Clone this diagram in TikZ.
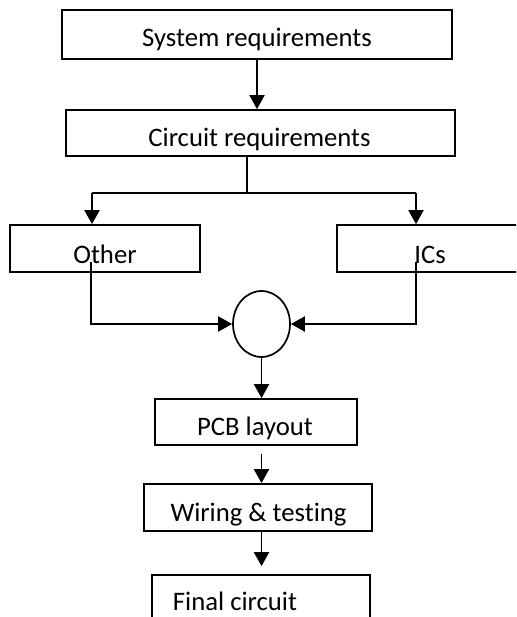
\documentclass[tikz,border=0pt]{standalone}
\usepackage{fontspec}
\setmainfont{Carlito}[Ligatures=NoCommon]
\usetikzlibrary{arrows.meta,shapes.geometric}
\begin{document}
\begin{tikzpicture}[x=1pt,y=-1pt,
  box/.style={draw, line width=1.7pt, rectangle, inner sep=0pt},
  lbl/.style={anchor=base, inner sep=0pt, font=\fontsize{26.7}{32}\selectfont},
  link/.style={line width=1.9pt},
  arr/.style={link, -{Triangle[width=15pt,length=14pt]}}]
\useasboundingbox (0,0) rectangle (516,617);
\clip (0,0) rectangle (516,617);

% boxes
\node[box, minimum width=390pt, minimum height=49pt] (sys)   at (257,34.5)  {};
\node[box, minimum width=389pt, minimum height=46pt] (cir)   at (260.5,133) {};
\node[box, minimum width=190pt, minimum height=47pt] (other) at (105,248.5) {};
\node[box, minimum width=190pt, minimum height=47pt] (ics)   at (432,248.5) {};
\node[draw, ellipse, line width=1.7pt, minimum width=57pt, minimum height=66pt, inner sep=0pt] (merge) at (261.5,324) {};
\node[box, minimum width=202pt, minimum height=46pt] (pcb)   at (256,422)   {};
\node[box, minimum width=228pt, minimum height=47pt] (wir)   at (258,507.5) {};
\node[box, minimum width=218pt, minimum height=85pt] (fin)   at (261,617.5) {};

% labels
\node[lbl] (systxt)   at (257,47)    {System requirements};
\node[lbl] (cirtxt)   at (259.5,147) {Circuit requirements};
\node[lbl] (othertxt) at (105,263)   {Other};
\node[lbl] (icstxt)   at (430,263)   {ICs};
\node[lbl] (pcbtxt)   at (255,435)   {PCB layout};
\node[lbl] (wirtxt)   at (258.5,521) {Wiring \& testing};
\node[lbl] (fintxt)   at (235,610)   {Final circuit};

% junction points
\coordinate (br)  at (247,193);
\coordinate (bl)  at (92,193);
\coordinate (brr) at (416,193);
\coordinate (ol)  at (91,262);
\coordinate (ir)  at (416,262);

% connectors
\draw[arr] (sys.south) -- (sys.south |- cir.north);
\draw[link] (br |- cir.south) -- (br);
\draw[link] (bl) -- (brr);
\draw[arr] (bl) -- (bl |- other.north);
\draw[arr] (brr) -- (brr |- ics.north);
\draw[arr] (ol) |- (merge.west);
\draw[arr] (ir) |- (merge.east);
\draw[arr] (merge.south) -- (merge.south |- pcb.north);
\draw[arr] ([yshift=-8pt]pcb.south -| merge.south) -- (merge.south |- wir.north);
\draw[arr, shorten >=8pt] (wir.south -| merge.south) -- (merge.south |- fin.north);
\end{tikzpicture}
\end{document}
